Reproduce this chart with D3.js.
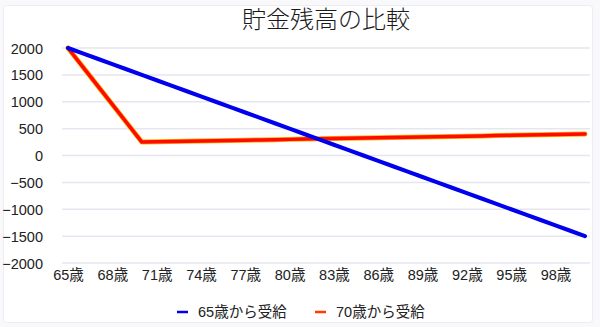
<!DOCTYPE html>
<html><head><meta charset="utf-8">
<script src="https://cdn.jsdelivr.net/npm/d3@7"></script>
<style>
html,body{margin:0;padding:0;background:#f9f9fc;}
svg{display:block;}
text{font-family:"Liberation Sans","Noto Sans CJK JP",sans-serif;}
</style></head><body>
<svg id="c" width="600" height="327"></svg>
<script>
const title = "貯金残高の比較";
const ages = d3.range(65, 101);
const categories = ages.map(a => a + "歳");
const seriesNames = ["65歳から受給", "70歳から受給"];
const series65 = [2000,1900,1800,1700,1600,1500,1400,1300,1200,1100,1000,900,800,700,600,500,400,300,200,100,0,-100,-200,-300,-400,-500,-600,-700,-800,-900,-1000,-1100,-1200,-1300,-1400,-1500];
const series70 = [2000,1650,1300,950,600,250,255,260,265,270,275,280,285,290,295,300,305,310,315,320,325,330,335,340,345,350,355,360,365,370,375,380,385,390,395,400];
const yTicks = [-2000,-1500,-1000,-500,0,500,1000,1500,2000];
const xTickLabels = ["65歳","68歳","71歳","74歳","77歳","80歳","83歳","86歳","89歳","92歳","95歳","98歳"];

const svg = d3.select("#c");
svg.append("rect").attr("x",3.5).attr("y",5.5).attr("width",589).attr("height",317)
  .attr("fill","#fff").attr("stroke","#ececf3").attr("rx",3);

const x = d3.scalePoint().domain(categories).range([68, 585]);
const y = d3.scaleLinear().domain([-2000, 2000]).range([263, 48]);

// grid
svg.append("g").selectAll("line").data(yTicks).join("line")
  .attr("x1",62).attr("x2",590).attr("y1",d=>y(d)).attr("y2",d=>y(d))
  .attr("stroke","#e6e6f0").attr("stroke-width",1.5);

// y axis labels
const yAxis = d3.axisLeft(y).tickValues(yTicks).tickSize(0).tickPadding(0).tickFormat(d3.format("d"));
const yg = svg.append("g").attr("transform","translate(43,0)").call(yAxis);
yg.select(".domain").remove();
yg.selectAll("text").attr("font-size",14.5).attr("fill","#222").attr("dy","0.35em");

// x axis labels
const xAxis = d3.axisBottom(x).tickValues(xTickLabels).tickSize(0).tickPadding(0);
const xg = svg.append("g").attr("transform","translate(0,270)").call(xAxis);
xg.select(".domain").remove();
xg.selectAll("text").attr("font-size",14.5).attr("fill","#222").attr("dy","0.71em");

// title
svg.append("text").attr("x",326).attr("y",28).attr("text-anchor","middle")
  .attr("font-size",24).attr("font-weight",300).attr("fill","#1a1a1a")
  .style("font-family","'Noto Sans CJK JP',sans-serif").text(title);

const line = d3.line().x((d,i)=>x(categories[i])).y(d=>y(d));
svg.append("path").datum(series70).attr("d",line).attr("fill","none")
  .attr("stroke","#ffb000").attr("stroke-width",5).attr("stroke-linejoin","round").attr("stroke-linecap","round");
svg.append("path").datum(series70).attr("d",line).attr("fill","none")
  .attr("stroke","#ff0a00").attr("stroke-width",3.5).attr("stroke-linejoin","round").attr("stroke-linecap","round");
svg.append("path").datum(series65).attr("d",line).attr("fill","none")
  .attr("stroke","#0000ee").attr("stroke-width",4).attr("stroke-linejoin","round").attr("stroke-linecap","round");

// legend
const legend = [{name:seriesNames[0], color:"#0000ee", x:177},{name:seriesNames[1], color:"#ff3c00", x:315}];
const lg = svg.append("g").selectAll("g").data(legend).join("g")
  .attr("transform",d=>`translate(${d.x},312)`);
lg.append("line").attr("x1",0).attr("x2",11).attr("y1",0).attr("y2",0)
  .attr("stroke",d=>d.color).attr("stroke-width",2.5);
lg.append("text").attr("x",21).attr("dy","0.35em").attr("font-size",14.5).attr("fill","#222").text(d=>d.name);
</script>
</body></html>
